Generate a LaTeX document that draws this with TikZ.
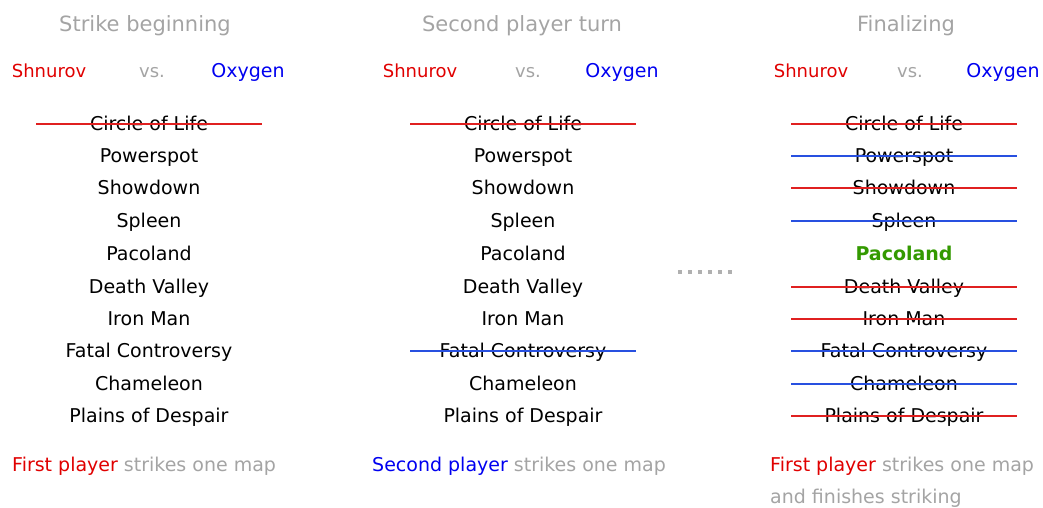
\documentclass[tikz,border=0pt]{standalone}
\usepackage{fontspec}
\setmainfont{DejaVu Sans}
\definecolor{tgray}{HTML}{A4A4A4}
\definecolor{dgray}{HTML}{B0B0B0}
\definecolor{pred}{HTML}{E00000}
\definecolor{pblue}{HTML}{0000F0}
\definecolor{lred}{HTML}{E02020}
\definecolor{lblue}{HTML}{2850E0}
\definecolor{pgreen}{HTML}{339900}
\begin{document}
\begin{tikzpicture}[x=1pt,y=-1pt,
  every node/.style={inner sep=0pt,anchor=base,font=\fontsize{19}{22}\selectfont},
  title/.style={text=tgray,font=\fontsize{21}{24}\selectfont},
  redname/.style={text=pred,font=\fontsize{18}{21}\selectfont},
  bluename/.style={text=pblue,font=\fontsize{19}{22}\selectfont},
  vstext/.style={text=tgray,font=\fontsize{18}{21}\selectfont},
  mapname/.style={text=black},
  foot/.style={text=tgray,anchor=base west},
  rstrike/.style={draw=lred,line width=1.8pt},
  bstrike/.style={draw=lblue,line width=1.8pt}]
\useasboundingbox (0,0) rectangle (1043,508);
% column titles
\node[title] (t1) at (145,32) {Strike beginning};
\node[title] (t2) at (522,32) {Second player turn};
\node[title] (t3) at (906,32) {Finalizing};
% players
\foreach \c/\s/\v/\o in {1/49/152/248, 2/420/528/622, 3/811/910/1003}{
  \node[redname] (s\c) at (\s,78) {Shnurov};
  \node[vstext] (v\c) at (\v,78) {vs.};
  \node[bluename] (o\c) at (\o,78) {Oxygen};
}
% map lists
\foreach \c/\x in {1/149, 2/523, 3/904}{
  \foreach \n/\y/\name in {1/130/Circle of Life, 2/162/Powerspot, 3/194/Showdown, 4/227/Spleen, 5/260/Pacoland, 6/293/Death Valley, 7/325/Iron Man, 8/357/Fatal Controversy, 9/390/Chameleon, 10/422/Plains of Despair}{
    \ifnum\c=3 \ifnum\n=5
      \node[mapname,text=pgreen,font=\fontsize{19}{22}\selectfont\bfseries] (m\c-\n) at (\x,\y) {\name};
    \else
      \node[mapname] (m\c-\n) at (\x,\y) {\name};
    \fi
    \else
      \node[mapname] (m\c-\n) at (\x,\y) {\name};
    \fi
  }
}
% strikes (through the middle of the lower-case letters)
\tikzset{strk/.style={insert path={++(-113,-6) -- ++(226,0)}}}
\draw[rstrike] (m1-1.base) [strk];
\draw[rstrike] (m2-1.base) [strk];
\draw[bstrike] (m2-8.base) [strk];
\foreach \n in {1,3,6,7,10}{\draw[rstrike] (m3-\n.base) [strk];}
\foreach \n in {2,4,8,9}{\draw[bstrike] (m3-\n.base) [strk];}
% dots
\foreach \i in {0,...,5}{\fill[dgray] (677.5+\i*10,270) rectangle ++(4,4);}
% footers
\node[foot] (f1) at (12,471) {\textcolor{pred}{First player} strikes one map};
\node[foot] (f2) at (372,471) {\textcolor{pblue}{Second player} strikes one map};
\node[foot] (f3) at (770,471) {\textcolor{pred}{First player} strikes one map};
\node[foot] (f4) at (770,503) {and finishes striking};
\end{tikzpicture}
\end{document}
